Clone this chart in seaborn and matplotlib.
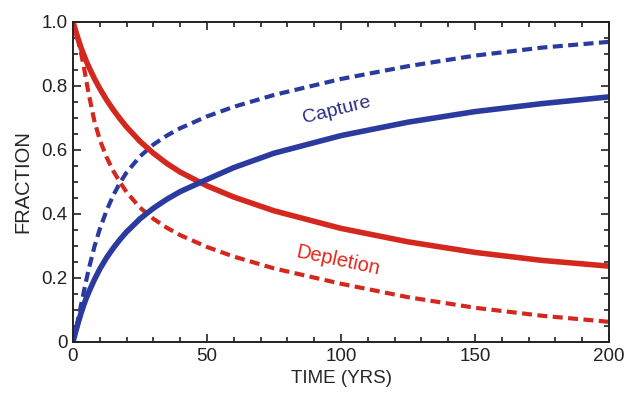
import numpy as np
import pandas as pd
import matplotlib
matplotlib.use("Agg")
import matplotlib.pyplot as plt
from matplotlib.ticker import MultipleLocator
import seaborn as sns

# Time (years)
time_yrs = [0, 1, 2, 3, 4, 5, 6, 8, 10, 12.5, 15, 17.5, 20, 25, 30, 35, 40,
            50, 60, 75, 100, 125, 150, 175, 200]

# Capture / depletion fractions (solid and dashed cases)
capture_solid = [0.0, 0.032, 0.062, 0.09, 0.115, 0.138, 0.158, 0.195, 0.228,
                 0.263, 0.293, 0.32, 0.344, 0.385, 0.418, 0.446, 0.47, 0.508,
                 0.545, 0.59, 0.645, 0.687, 0.72, 0.745, 0.766]
depletion_solid = [1.0, 0.972, 0.945, 0.92, 0.898, 0.877, 0.858, 0.823,
                   0.792, 0.757, 0.726, 0.698, 0.672, 0.627, 0.59, 0.558,
                   0.531, 0.488, 0.453, 0.41, 0.355, 0.313, 0.28, 0.255,
                   0.237]
capture_dashed = [0.0, 0.035, 0.075, 0.115, 0.155, 0.195, 0.232, 0.298,
                  0.353, 0.41, 0.458, 0.497, 0.53, 0.58, 0.617, 0.645, 0.668,
                  0.705, 0.735, 0.772, 0.822, 0.862, 0.895, 0.92, 0.938]
depletion_dashed = [1.0, 0.975, 0.94, 0.903, 0.862, 0.815, 0.77, 0.69,
                    0.632, 0.578, 0.535, 0.5, 0.468, 0.42, 0.385, 0.357,
                    0.334, 0.297, 0.267, 0.23, 0.182, 0.14, 0.107, 0.082,
                    0.063]

x_ticks = [0, 50, 100, 150, 200]
y_ticks = [0, 0.2, 0.4, 0.6, 0.8, 1.0]
y_tick_labels = ["0", "0.2", "0.4", "0.6", "0.8", "1.0"]

BLUE = "#2b3a9e"
RED = "#d4281f"

sns.set_style("ticks")
plt.rcParams["font.family"] = ["Liberation Sans", "DejaVu Sans"]

fig = plt.figure(figsize=(6.27, 4.0), dpi=100)
ax = fig.add_axes([0.1164, 0.145, 0.855, 0.80])

dash = (0, (2.4, 1.3))
sns.lineplot(x=time_yrs, y=capture_dashed, ax=ax, color=BLUE, linewidth=3.0,
             linestyle=dash)
sns.lineplot(x=time_yrs, y=depletion_dashed, ax=ax, color=RED, linewidth=3.0,
             linestyle=dash)
sns.lineplot(x=time_yrs, y=depletion_solid, ax=ax, color=RED, linewidth=4.0)
sns.lineplot(x=time_yrs, y=capture_solid, ax=ax, color=BLUE, linewidth=4.0)

ax.set_xlim(0, 200)
ax.set_ylim(0, 1.0)
ax.set_xticks(x_ticks)
ax.set_xticklabels([str(v) for v in x_ticks])
ax.set_yticks(y_ticks)
ax.set_yticklabels(y_tick_labels)
ax.xaxis.set_minor_locator(MultipleLocator(10))
ax.yaxis.set_minor_locator(MultipleLocator(0.05))

ax.tick_params(which="both", direction="in", top=True, right=True,
               colors="#222222", width=1.2)
ax.tick_params(which="major", length=6, labelsize=13.5, pad=4)
ax.tick_params(which="minor", length=3.5)
for s in ax.spines.values():
    s.set_linewidth(1.4)
    s.set_color("#222222")

ax.set_xlabel("TIME (YRS)", fontsize=13.5, labelpad=4)
ax.set_ylabel("FRACTION", fontsize=14.5, labelpad=6)

ax.text(98.5, 0.725, "Capture", color="#2b2b85", fontsize=14, rotation=14,
        ha="center", va="center")
ax.text(99, 0.256, "Depletion", color="#e3261c", fontsize=14.5, rotation=-12,
        ha="center", va="center")

fig.savefig("out.png", dpi=100)
